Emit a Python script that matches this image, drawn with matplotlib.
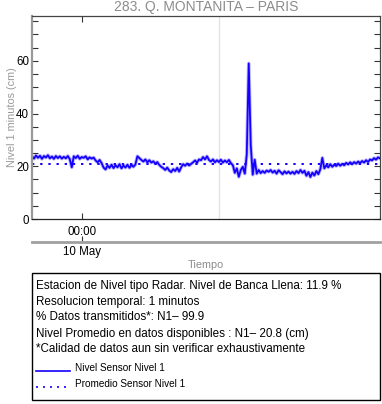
import numpy as np
import matplotlib
matplotlib.use("Agg")
import matplotlib.pyplot as plt
from matplotlib.lines import Line2D
from matplotlib.patches import Rectangle

plt.rcParams['font.family'] = ['Liberation Sans', 'DejaVu Sans']

title = "283. Q. MONTANITA \u2013 PARIS"
ylabel = "Nivel 1 minutos (cm)"
xlabel = "Tiempo"
x_start, x_end = -4.41, 26.2   # hours relative to 10 May 00:00
marker_hour = 12.0
mean_level = 20.8

nivel = [
    23.8, 22.9, 24.1, 23.2, 24.0, 22.8, 23.9, 23.3, 24.2, 23.0,
    23.7, 22.8, 23.9, 23.1, 23.8, 22.9, 23.6, 23.0, 23.9, 22.7,
    19.6, 23.8, 23.1, 24.0, 22.8, 23.5, 23.2, 23.8, 22.6, 23.4,
    22.9, 23.3, 22.2, 21.5, 22.4, 21.2, 19.5, 18.8, 20.3, 19.4,
    20.6, 19.3, 20.4, 19.6, 20.8, 19.2, 20.3, 19.5, 20.6, 19.4,
    20.5, 19.8, 20.7, 23.8, 23.1, 22.4, 21.8, 22.6, 21.5, 22.3,
    21.4, 21.9, 21.0, 21.6, 20.5, 19.8, 19.3, 18.6, 19.5, 18.4,
    17.8, 18.9, 18.2, 19.4, 18.0, 19.6, 20.8, 20.2, 21.0, 20.3,
    20.9, 21.5, 22.2, 21.4, 22.6, 22.3, 23.5, 22.6, 23.8, 22.4,
    21.8, 22.6, 21.5, 22.3, 21.6, 22.5, 21.4, 22.2, 21.5, 22.4,
    21.2, 20.4, 17.5, 19.2, 16.0, 18.6, 19.8, 17.2, 24.5, 59.0,
    28.0, 16.8, 22.5, 17.2, 18.6, 17.4, 18.2, 17.5, 18.4, 17.9,
    18.6, 17.6, 18.3, 17.2, 18.5, 17.8, 17.0, 18.1, 17.3, 18.0,
    17.2, 17.9, 17.1, 18.2, 17.4, 18.6, 17.5, 18.3, 16.4, 17.8,
    15.9, 17.6, 16.5, 18.2, 17.0, 18.9, 23.2, 19.2, 20.4, 19.6,
    20.8, 19.8, 20.6, 20.1, 21.0, 20.2, 20.9, 20.4, 21.3, 20.7,
    21.5, 20.8, 21.6, 21.0, 21.8, 21.2, 22.0, 21.4, 22.3, 21.6,
    22.6, 22.2, 23.1, 22.5, 23.4, 23.0,
]
hours = np.linspace(x_start, x_end, len(nivel))

info_lines = [
    "Estacion de Nivel tipo Radar. Nivel de Banca Llena: 11.9 %",
    "Resolucion temporal: 1 minutos",
    "% Datos transmitidos*: N1\u2013 99.9",
    "Nivel Promedio en datos disponibles : N1\u2013 20.8 (cm)",
    "*Calidad de datos aun sin verificar exhaustivamente",
]
legend_labels = ["Nivel Sensor Nivel 1", "Promedio Sensor Nivel 1"]

W, H = 382, 404
fig = plt.figure(figsize=(W / 100, H / 100), dpi=100)

def fx(px):
    return px / W

def fy(py):
    return 1 - py / H

BLUE = '#1400ff'
L, R, T, B = 32, 380, 16, 219
ax = fig.add_axes([fx(L), fy(B), fx(R - L), fy(T) - fy(B)])
ax.plot(hours, nivel, color=BLUE, lw=2.6, alpha=0.3)
ax.plot(hours, nivel, color=BLUE, lw=1.3)
ax.axhline(mean_level, color=BLUE, lw=1.4, ls=(0, (1.2, 3)))
ax.axvline(marker_hour, color='#e3e3e3', lw=1.0, zorder=0)
ax.set_xlim(x_start, x_end)
ax.set_ylim(0, 77)
ax.set_yticks([0, 20, 40, 60])
ax.set_yticks(np.arange(0, 77, 5), minor=True)
ax.set_xticks([0])
ax.set_xticklabels(["00:00"])
ax.tick_params(axis='both', which='both', direction='in', length=4, width=0.8,
               labelsize=8.3, top=True, right=True, colors='#333333', labelcolor='black')
ax.tick_params(axis='y', which='major', pad=2)
ax.tick_params(axis='x', which='major', pad=5)
ax.spines['left'].set_color('#999999')
ax.spines['left'].set_linewidth(1.6)
ax.spines['bottom'].set_color('#222222')
ax.spines['top'].set_color('#444444')
ax.spines['right'].set_color('#444444')
for s in ['bottom', 'top', 'right']:
    ax.spines[s].set_linewidth(0.9)
fig.text(fx(12), fy((T + B) / 2), ylabel, rotation=90, ha='center', va='center',
         color='#999999', fontsize=7.8)
fig.text(fx((L + R) / 2), fy(7), title, ha='center', va='center', color='#8c8c8c', fontsize=10)

# secondary date axis
ax2 = fig.add_axes([fx(L), fy(242), fx(R - L), 0.0001])
ax2.set_xlim(x_start, x_end)
ax2.set_yticks([])
for s in ['left', 'right', 'top']:
    ax2.spines[s].set_visible(False)
ax2.spines['bottom'].set_color('#a0a0a0')
ax2.spines['bottom'].set_linewidth(2.0)
ax2.patch.set_visible(False)
ax2.set_xticks([0])
ax2.set_xticklabels(["10 May"])
ax2.tick_params(axis='x', direction='in', length=4, width=0.8, labelsize=8.3, pad=3,
                colors='#333333', labelcolor='black')
fig.text(fx((L + R) / 2), fy(265), xlabel, ha='center', va='center', color='#8c8c8c', fontsize=7.8)

# info box
fig.patches.append(Rectangle((fx(32), fy(400)), fx(380 - 32), fy(273) - fy(400),
                             transform=fig.transFigure, fill=False, ec='black', lw=1.0))
ys = [285.5, 301.5, 317.5, 333.5, 349.5]
for yy, txt in zip(ys, info_lines):
    fig.text(fx(36), fy(yy), txt, ha='left', va='center', fontsize=8.4, color='black')
leg_y = [368, 384]
styles = ['-', (0, (1.2, 3))]
for yy, lab, st in zip(leg_y, legend_labels, styles):
    fig.lines.append(Line2D([fx(36), fx(70)], [fy(yy + 3), fy(yy + 3)], transform=fig.transFigure,
                            color=BLUE, lw=1.2, ls=st))
    fig.text(fx(75), fy(yy), lab, ha='left', va='center', fontsize=7.2, color='black')

fig.savefig("out.png", dpi=100)
